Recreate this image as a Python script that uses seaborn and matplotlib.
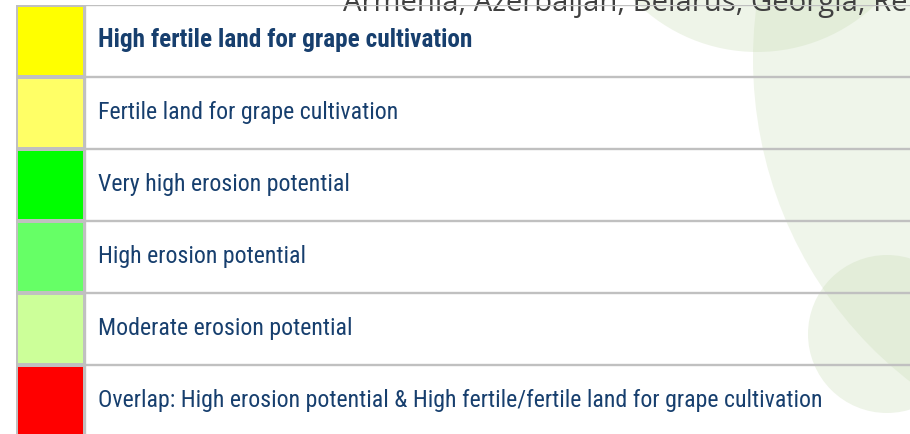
import numpy as np
import seaborn as sns
import matplotlib.pyplot as plt
from matplotlib.colors import ListedColormap
from matplotlib.patches import Circle, Ellipse
from matplotlib import font_manager

# legend entries
labels = [
    "High fertile land for grape cultivation",
    "Fertile land for grape cultivation",
    "Very high erosion potential",
    "High erosion potential",
    "Moderate erosion potential",
    "Overlap: High erosion potential & High fertile/fertile land for grape cultivation",
]
swatch_colors = ["#ffff00", "#ffff66", "#00ff00", "#66ff66", "#ccff99", "#ff0000"]
header = "Armenia, Azerbaijan, Belarus, Georgia, Rep"

sns.set_theme(style="white")

installed = {f.name for f in font_manager.fontManager.ttflist}
label_font = "Roboto"
for cand in ["Liberation Sans Narrow", "Roboto Condensed", "DejaVu Sans Condensed", "Liberation Sans"]:
    if cand in installed:
        label_font = cand
        break

W, H = 910, 435
fig = plt.figure(figsize=(W / 100, H / 100), dpi=100)

# background with the decorative green shapes
bg = fig.add_axes([0, 0, 1, 1])
bg.set_xlim(0, W)
bg.set_ylim(H, 0)
bg.axis("off")
green = "#c8dcb4"
bg.add_patch(Ellipse((1150, 60), 2 * 397, 2 * 405, color=green, alpha=0.28, lw=0))
bg.add_patch(Circle((757, -119), 172, color=green, alpha=0.3, lw=0))
bg.add_patch(Circle((887, 335), 79, color=green, alpha=0.3, lw=0))
head = bg.text(343, 11, header, fontsize=20, family="Open Sans", color="#404040", va="baseline")

# table geometry (pixels)
top, row_h, x0, x_split = 5.7, 72, 16, 85
n = len(labels)
bottom = top + n * row_h
grid = "#c0c0c0"

# text column
ax_tx = fig.add_axes([x0 / W, (H - bottom) / H, (W + 10 - x0) / W, n * row_h / H])
ax_tx.patch.set_alpha(0)
ax_tx.set_xlim(x0, W + 10)
ax_tx.set_ylim(n, 0)
ax_tx.axis("off")
for i in range(n + 1):
    ax_tx.axhline(i, color=grid, lw=1.7)
ax_tx.axvline(x0, color=grid, lw=1.7)
ax_tx.axvline(x_split, color=grid, lw=1.7)
texts = []
for i, lab in enumerate(labels):
    t = ax_tx.text(98, i + 0.57, lab, fontsize=15, family=label_font,
                   weight="semibold" if i == 0 else "normal",
                   color="#173f6e", va="baseline", ha="left")
    texts.append(t)

# colour swatches
ax_sw = fig.add_axes([x0 / W, (H - bottom) / H, (x_split - x0) / W, n * row_h / H])
sns.heatmap(np.arange(n).reshape(-1, 1), cmap=ListedColormap(swatch_colors),
            cbar=False, linewidths=1.7, linecolor=grid, ax=ax_sw,
            xticklabels=False, yticklabels=False)

# fit font sizes to the widths seen in the reference
fig.canvas.draw()
r = fig.canvas.get_renderer()
scale = 725 / texts[-1].get_window_extent(r).width
for t in texts[1:]:
    t.set_fontsize(15 * scale)
texts[0].set_fontsize(15 * 374 / texts[0].get_window_extent(r).width)
head.set_fontsize(20 * 582 / head.get_window_extent(r).width)

fig.savefig("out.png", dpi=100)
